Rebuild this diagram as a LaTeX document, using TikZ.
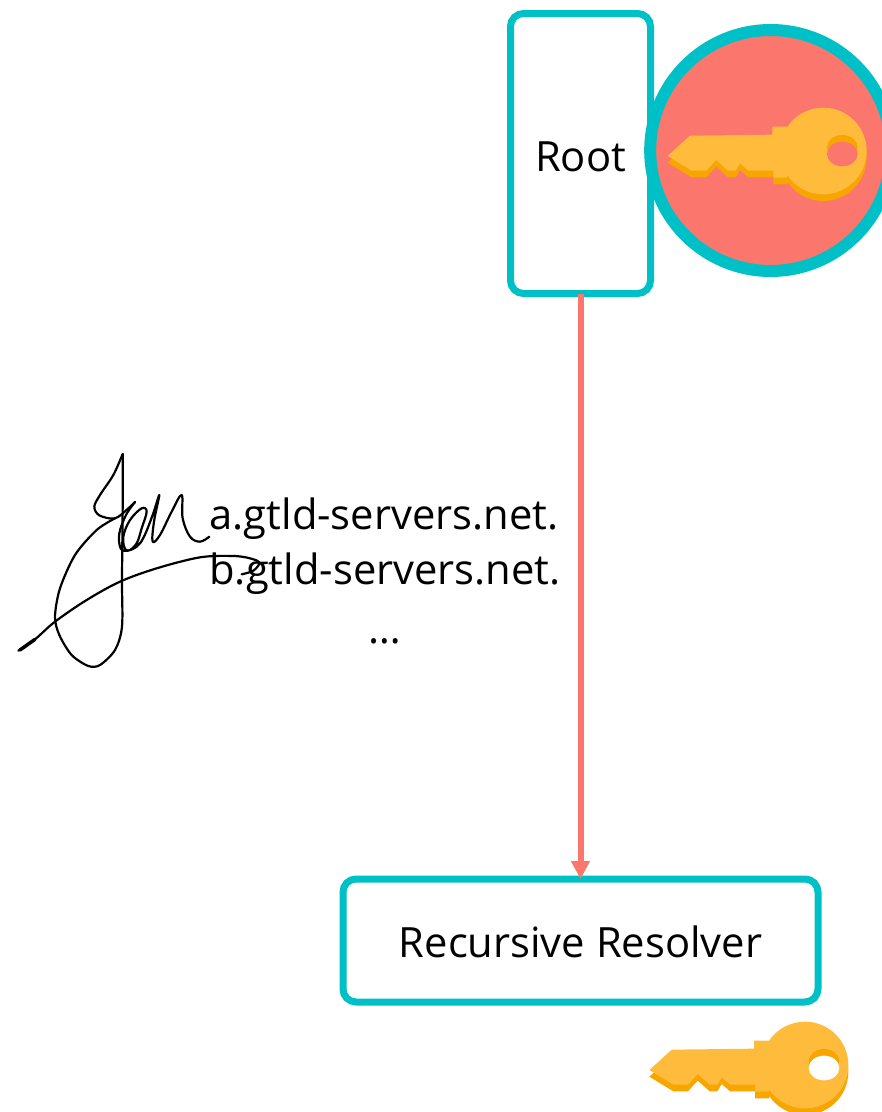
\documentclass[tikz,border=0pt]{standalone}
\usepackage{fontspec}
\setmainfont{Open Sans}
\usetikzlibrary{arrows.meta}
\definecolor{teal0}{HTML}{00C0C7}
\definecolor{salmon0}{HTML}{FB766D}
\definecolor{keytop}{HTML}{FFBB3C}
\definecolor{keyside}{HTML}{F7A600}
\tikzset{
  boxed/.style={draw=teal0,line width=7pt,rounded corners=13pt,fill=white,inner sep=0pt,outer sep=0pt},
  boxtext/.style={inner sep=0pt,outer sep=0pt,font=\fontsize{41.7}{41.7}\selectfont,anchor=base},
  label0/.style={inner sep=0pt,outer sep=0pt,font=\fontsize{41.7}{41.7}\selectfont,anchor=base},
  sig/.style={black,line width=2.2pt,line cap=round,line join=round},
  link/.style={salmon0,line width=6pt,-{Triangle[length=18pt,width=18pt]}}
}
\newcommand{\keyoutline}{(83,438) -- (150,377) -- (397,374) -- (397,350) -- (442,350) -- (442,503) -- (400,503) -- (400,482) -- (325,482) -- (300,460) -- (287,482) -- (264,482) -- (228,450) -- (199,482) -- (155,482) -- cycle (550,423) circle [radius=130]}
\newcommand{\keyicon}[3]{%
  \begin{scope}[shift={(#1,#2)},x=0.33333pt,y=-0.33333pt]
    \fill[keyside,yshift=-6.67pt] \keyoutline;
    \fill[keytop] \keyoutline;
    \fill[keyside] (607,412) ellipse [x radius=46,y radius=37];
    \fill[#3] (607,432) ellipse [x radius=46,y radius=37];
  \end{scope}}
\begin{document}
\begin{tikzpicture}[x=1pt,y=-1pt]
\useasboundingbox (0,0) rectangle (882,1112);
\fill[white] (0,0) rectangle (882,1112);
% root box and resolver box
\node[boxed,minimum width=140pt,minimum height=280pt] (root) at (580.5,153.5) {};
\node[boxed,minimum width=475pt,minimum height=123pt] (resolver) at (580.5,940.5) {};
\node[boxtext] (roottext) at (580.5,171) {Root};
\node[boxtext] (restext) at (580.5,957) {Recursive Resolver};
\draw[link] (root.south) -- (resolver.north);
% key in circle
\node[circle,draw=teal0,fill=salmon0,line width=12pt,minimum size=241pt,inner sep=0pt,outer sep=0pt] (keycircle) at (770.7,150.5) {};
\keyicon{640}{10}{salmon0}
\keyicon{621.7}{924}{white}
% address labels
\node[label0] (l1) at (384,529) {a.gtld-servers.net.};
\node[label0] (l2) at (385,584) {b.gtld-servers.net.};
\node[label0] (l3) at (385,643) {…};
% signature
\begin{scope}[shift={(0,440)},x=0.33333pt,y=-0.33333pt]
\draw[sig] plot[smooth,tension=0.55] coordinates {(368,42) (340,105) (300,165) (283,200) (298,226) (345,235) (385,205) (405,186)};
\draw[sig] plot[smooth,tension=0.5] coordinates {(368,42) (368,200) (366,420) (366,560) (345,630) (300,675) (265,678) (215,645) (178,585) (165,530) (180,445) (225,345) (290,270) (345,235)};
\draw[sig] plot[smooth,tension=0.6] coordinates {(405,186) (378,225) (358,280) (362,325) (385,332) (410,310) (425,265) (440,215) (425,205) (390,240) (370,290) (378,330) (410,320) (432,290) (458,225) (478,165) (462,245) (458,305) (480,285) (515,215) (545,165) (548,235) (570,290) (600,305) (628,290)};
\draw[sig] plot[smooth,tension=0.55] coordinates {(55,632) (105,598) (165,545) (260,480) (360,425) (470,385) (600,352) (700,348) (750,355) (778,368) (760,392) (725,403)};
\draw[sig,line width=3.5pt] (60,630) -- (105,598);
\end{scope}
\end{tikzpicture}
\end{document}
